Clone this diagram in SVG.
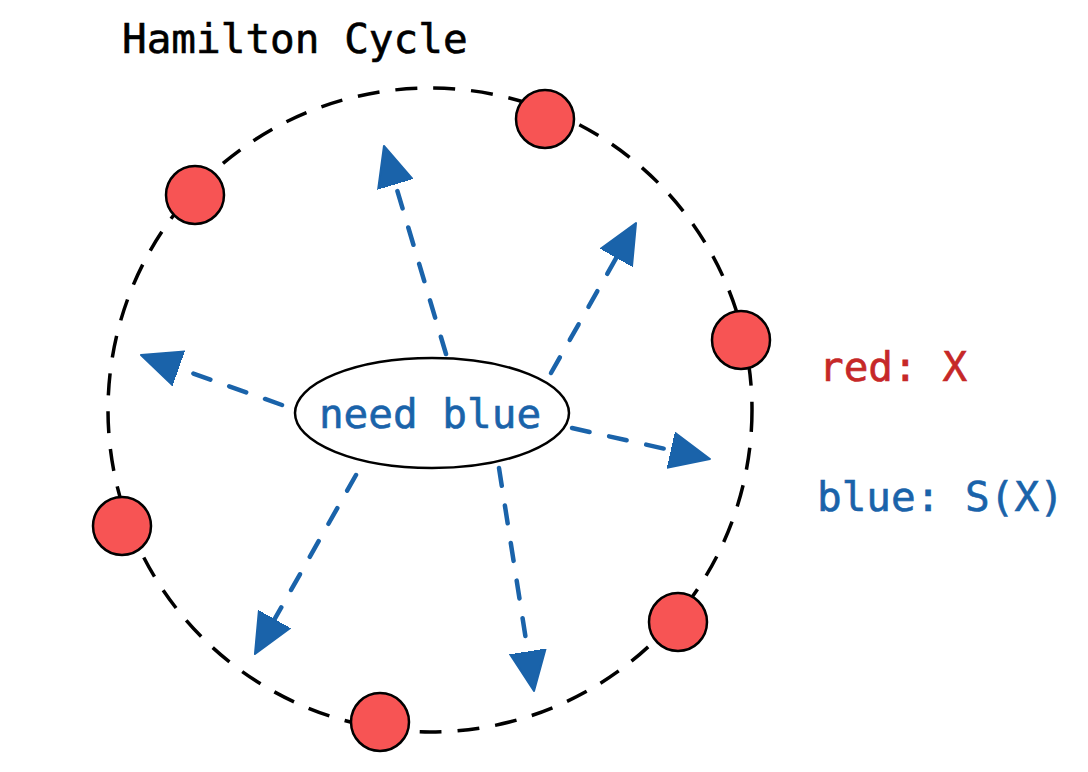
<svg xmlns="http://www.w3.org/2000/svg" width="1088" height="772" viewBox="0 0 1088 772">
<defs>
<style>
.t{font-family:"DejaVu Sans Mono","Liberation Mono",monospace;font-size:41px;stroke-width:0.6}
.ring{fill:none;stroke:#000;stroke-width:3.5;stroke-dasharray:22 16}
.node{fill:#f75454;stroke:#000;stroke-width:2.5}
.arr{fill:none;stroke:#1a63aa;stroke-width:4.5;stroke-linecap:round;stroke-dasharray:18 20}
</style>
<marker id="ah" markerUnits="userSpaceOnUse" markerWidth="42" markerHeight="38" refX="0" refY="18" orient="auto" viewBox="0 0 42 36">
<path d="M0,0 L40,18 L0,36 Z" fill="#1a63aa" stroke="#1a63aa" stroke-width="2" stroke-linejoin="round"/>
</marker>
</defs>
<rect width="1088" height="772" fill="#fff"/>
<text class="t" x="122" y="53" fill="#000" stroke="#000">Hamilton Cycle</text>
<circle class="ring" cx="430" cy="410" r="322"/>
<g id="connectors">
<path class="arr" d="M446,354 L395.4,184.3" marker-end="url(#ah)"/>
<path class="arr" d="M551,373 L616.3,257.8" marker-end="url(#ah)"/>
<path class="arr" d="M282,405 L178.7,368.4" marker-end="url(#ah)"/>
<path class="arr" d="M572,428 L670.9,450.2" marker-end="url(#ah)"/>
<path class="arr" d="M356,475 L274.6,619.2" marker-end="url(#ah)"/>
<path class="arr" d="M499,468 L527.8,651.5" marker-end="url(#ah)"/>
</g>
<g id="n1"><circle class="node" cx="545" cy="119" r="29"/></g>
<g id="n2"><circle class="node" cx="195" cy="195" r="29"/></g>
<g id="n3"><circle class="node" cx="741" cy="340" r="29"/></g>
<g id="n4"><circle class="node" cx="122" cy="526" r="29"/></g>
<g id="n5"><circle class="node" cx="678" cy="622" r="29"/></g>
<g id="n6"><circle class="node" cx="380" cy="722" r="29"/></g>
<g id="center">
<ellipse cx="432" cy="413" rx="137" ry="55" fill="#fff" stroke="#000" stroke-width="2.5"/>
<text class="t" x="430" y="428" text-anchor="middle" fill="#1a63aa" stroke="#1a63aa">need blue</text>
</g>
<text class="t" x="819" y="381" fill="#c62828" stroke="#c62828">red: X</text>
<text class="t" x="817" y="511" fill="#1a63aa" stroke="#1a63aa">blue: S(X)</text>
</svg>
